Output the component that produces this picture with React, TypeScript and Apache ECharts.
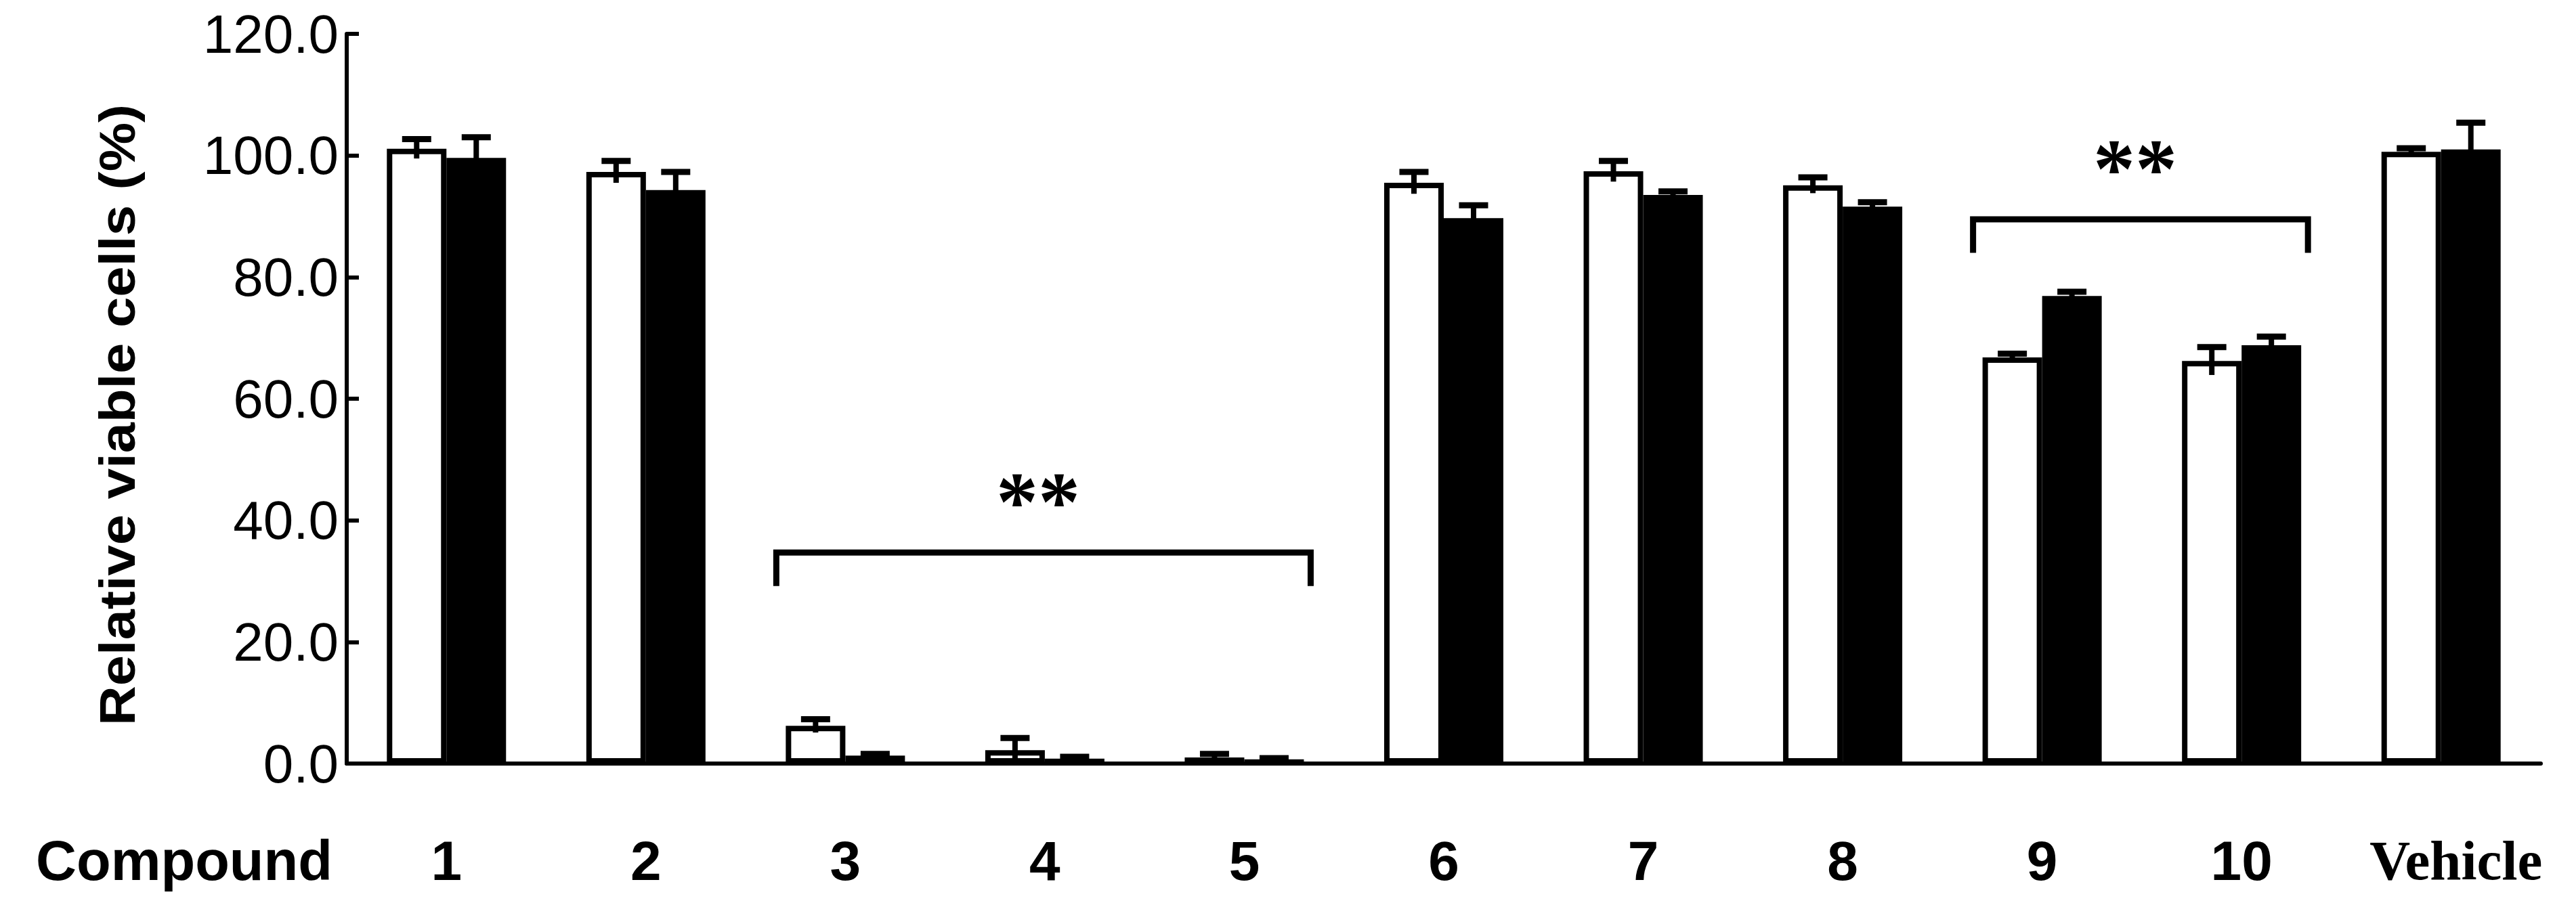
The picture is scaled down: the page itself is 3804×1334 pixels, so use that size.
import React, { useEffect, useRef } from "react";
import * as echarts from "echarts";

// ---- data ----
const categories = ["1", "2", "3", "4", "5", "6", "7", "8", "9", "10", "Vehicle"];
const whiteValues = [101.1, 97.3, 6.2, 2.2, 1.0, 95.5, 97.4, 95.1, 66.8, 66.2, 100.6];
const whiteErrors = [1.6, 1.8, 1.1, 2.0, 0.6, 1.8, 1.7, 1.3, 0.6, 2.3, 0.6];
const blackValues = [99.6, 94.3, 1.3, 0.8, 0.7, 89.7, 93.5, 91.6, 76.9, 68.8, 101.0];
const blackErrors = [3.4, 3.0, 0.3, 0.3, 0.2, 2.1, 0.6, 0.7, 0.7, 1.4, 4.4];
const yMin = 0;
const yMax = 120;
const yInterval = 20;
const bracketFrom = [2, 8];
const bracketTo = [4, 9];
const bracketY = [34.7, 89.5];
const bracketLegY = [29.2, 84.0];
const bracketLabels = ["**", "**"];
const yTitle = "Relative viable cells (%)";
const xTitle = "Compound";

const BAR_W = 88;
const BORDER = 8;

function errorSeries(values: number[], errors: number[], offset: number) {
  return {
    type: "custom",
    z: 5,
    silent: true,
    data: values.map((v, i) => [i, v, errors[i]]),
    encode: { x: 0, y: 1 },
    renderItem: (params: any, api: any) => {
      const i = api.value(0);
      const v = api.value(1);
      const e = api.value(2);
      const top = api.coord([i, v + e]);
      const bot = api.coord([i, Math.max(0, v - e)]);
      const x = top[0] + offset;
      return {
        type: "group",
        children: [
          {
            type: "line",
            shape: { x1: x, y1: bot[1], x2: x, y2: top[1] },
            style: { stroke: "#000", lineWidth: 8 },
          },
          {
            type: "line",
            shape: { x1: x - 21.5, y1: top[1], x2: x + 21.5, y2: top[1] },
            style: { stroke: "#000", lineWidth: 9 },
          },
        ],
      };
    },
  };
}

export default function App() {
  const ref = useRef<HTMLDivElement>(null);
  useEffect(() => {
    if (!ref.current) return;
    const chart = echarts.init(ref.current, null, { renderer: "svg" });
    const option: any = {
      animation: false,
      backgroundColor: "#fff",
      grid: { left: 512, top: 50, width: 3240, height: 1078, containLabel: false, outerBoundsMode: "none" },
      xAxis: {
        type: "category",
        data: categories,
        offset: 4,
        axisLine: { lineStyle: { color: "#000", width: 6 } },
        axisTick: { inside: true, length: 22, lineStyle: { color: "#000", width: 6 }, interval: 0 },
        axisLabel: {
          interval: 0,
          margin: 139,
          verticalAlign: "middle",
          color: "#000",
          formatter: (v: string) => (v === "Vehicle" ? `{v|${v}}` : `{n|${v}}`),
          rich: {
            n: { fontFamily: "Liberation Sans", fontWeight: "bold", fontSize: 82, color: "#000" },
            v: { fontFamily: "Liberation Serif", fontWeight: "bold", fontSize: 83, color: "#000", padding: [0, 0, 0, 44] },
          },
        },
        splitLine: { show: false },
      },
      yAxis: {
        type: "value",
        min: yMin,
        max: yMax,
        interval: yInterval,
        axisLine: { show: true, lineStyle: { color: "#000", width: 6 } },
        axisTick: { show: true, inside: true, length: 18, lineStyle: { color: "#000", width: 6 } },
        axisLabel: {
          color: "#000",
          fontFamily: "Liberation Sans",
          fontSize: 80,
          margin: 12,
          padding: [18, 0, 0, 0],
          formatter: (v: number) => v.toFixed(1),
        },
        splitLine: { show: false },
      },
      series: [
        {
          type: "bar",
          data: whiteValues,
          barWidth: BAR_W,
          barGap: "0%",
          z: 2,
          itemStyle: { color: "#fff", borderColor: "#000", borderWidth: BORDER },
        },
        {
          type: "bar",
          data: blackValues,
          barWidth: BAR_W,
          barGap: "0%",
          z: 3,
          itemStyle: { color: "#000" },
        },
        errorSeries(whiteValues, whiteErrors, -BAR_W / 2),
        errorSeries(blackValues, blackErrors, BAR_W / 2),
        {
          type: "custom",
          z: 6,
          silent: true,
          data: bracketFrom.map((f, i) => [f, bracketTo[i], bracketY[i], bracketLegY[i]]),
          encode: { x: 0, y: 2 },
          renderItem: (params: any, api: any) => {
            const from = api.value(0);
            const to = api.value(1);
            const y = api.value(2);
            const leg = api.value(3);
            const a = api.coord([from, y]);
            const b = api.coord([to, y]);
            const l = api.coord([from, leg]);
            const s = api.coord([from, y + 8.3]);
            const xl = a[0] - BAR_W - BORDER / 2 - 10;
            const xr = b[0] + BAR_W + 10;
            return {
              type: "group",
              children: [
                {
                  type: "polyline",
                  shape: { points: [[xl, l[1]], [xl, a[1]], [xr, a[1]], [xr, l[1]]] },
                  style: { stroke: "#000", lineWidth: 9, fill: "none", lineJoin: "miter" },
                },
                {
                  type: "text",
                  style: {
                    text: bracketLabels[params.dataIndex],
                    x: (xl + xr) / 2 - 8,
                    y: s[1],
                    align: "center",
                    verticalAlign: "middle",
                    fontFamily: "Liberation Serif",
                    fontWeight: "bold",
                    fontSize: 124,
                    fill: "#000",
                  },
                },
              ],
            };
          },
        },
      ],
      graphic: [
        {
          type: "text",
          x: 173,
          y: 613,
          rotation: Math.PI / 2,
          scaleX: 1.1,
          style: {
            text: yTitle,
            fontFamily: "Liberation Sans",
            fontWeight: "bold",
            fontSize: 74,
            fill: "#000",
            align: "center",
            verticalAlign: "middle",
          },
        },
        {
          type: "text",
          x: 53,
          y: 1271,
          style: {
            text: xTitle,
            fontFamily: "Liberation Sans",
            fontWeight: "bold",
            fontSize: 83,
            fill: "#000",
            align: "left",
            verticalAlign: "middle",
          },
        },
      ],
    };
    chart.setOption(option);
    return () => chart.dispose();
  }, []);
  return (
    <div
      ref={ref}
      style={{ position: "fixed", left: 0, top: 0, width: 3804, height: 1334, background: "#fff" }}
    />
  );
}
